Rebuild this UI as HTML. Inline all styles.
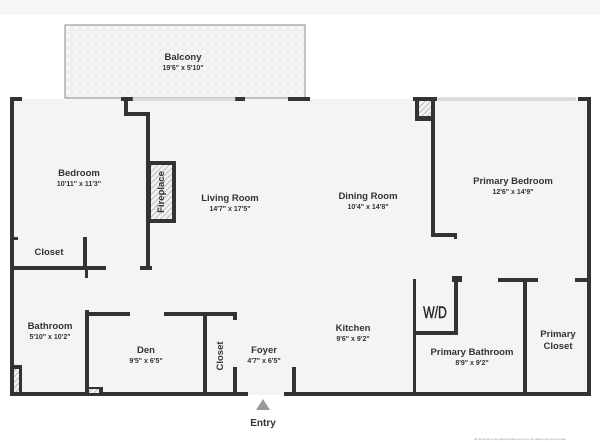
<!DOCTYPE html>
<html><head><style>
html,body{margin:0;padding:0;background:#fff;}
svg{display:block;}
text{font-family:"Liberation Sans",sans-serif;fill:#333;text-anchor:middle;}
.n{font-size:9.5px;font-weight:bold;}
.d{font-size:7px;font-weight:bold;}
</style></head><body>
<svg width="600" height="442" viewBox="0 0 600 442">
<defs>
<pattern id="tile" width="8" height="8" patternUnits="userSpaceOnUse">
<rect width="8" height="8" fill="#f7f7f7"/>
<rect x="1" y="1" width="6" height="6" rx="1.5" fill="none" stroke="#e4e4e4" stroke-width="0.8"/>
</pattern>
<pattern id="hatch" width="4" height="4" patternUnits="userSpaceOnUse" patternTransform="rotate(45)">
<rect width="4" height="4" fill="#f2f2f2"/>
<line x1="0" y1="0" x2="0" y2="4" stroke="#999" stroke-width="1.2"/>
</pattern>
</defs>
<rect x="0" y="0" width="600" height="15" fill="#f6f6f6"/>
<rect x="65" y="25" width="240" height="73" fill="url(#tile)" stroke="#888" stroke-width="1"/>
<rect x="12" y="99" width="577" height="296" fill="#f4f4f4"/>
<g fill="#333">
<rect x="10" y="97" width="4" height="299"/>
<rect x="10" y="97" width="12" height="4"/>
<rect x="121" y="97" width="12" height="4"/>
<rect x="235" y="97" width="10" height="4"/>
<rect x="288" y="97" width="22" height="4"/>
<rect x="413" y="97" width="24" height="4"/>
<rect x="578" y="97" width="13" height="4"/>
<rect x="587" y="97" width="4" height="299"/>
<rect x="10" y="392" width="238" height="4"/>
<rect x="284" y="392" width="307" height="4"/>
<rect x="124" y="97" width="4" height="19"/>
<rect x="124" y="112" width="26" height="4"/>
<rect x="146" y="112" width="4" height="158"/>
<rect x="10" y="266" width="96" height="4"/>
<rect x="140" y="266" width="12" height="4"/>
<rect x="10" y="237" width="8" height="3"/>
<rect x="83" y="237" width="4" height="33"/>
<rect x="85" y="268" width="3" height="10"/>
<rect x="85" y="310" width="4" height="86"/>
<rect x="85" y="312" width="45" height="4"/>
<rect x="164" y="312" width="73" height="4"/>
<rect x="203" y="312" width="4" height="84"/>
<rect x="233" y="312" width="4" height="8"/>
<rect x="233" y="367" width="4" height="29"/>
<rect x="292" y="367" width="4" height="29"/>
<rect x="431" y="97" width="4" height="140"/>
<rect x="431" y="233" width="26" height="4"/>
<rect x="454" y="233" width="3" height="6"/>
<rect x="452" y="276" width="10" height="6"/>
<rect x="498" y="278" width="40" height="4"/>
<rect x="575" y="278" width="14" height="4"/>
<rect x="413" y="279" width="3" height="117"/>
<rect x="454" y="278" width="4" height="57"/>
<rect x="413" y="331" width="45" height="4"/>
<rect x="523" y="278" width="4" height="118"/>
<rect x="415" y="97" width="20" height="24"/>
<rect x="148" y="161" width="28" height="62"/>
<rect x="12" y="365" width="10" height="28"/>
<rect x="86" y="387" width="17" height="7"/>
</g>
<rect x="419" y="101" width="12" height="15" fill="url(#hatch)"/>
<rect x="151" y="165" width="21" height="54" fill="url(#hatch)"/>
<rect x="14" y="369" width="5" height="23" fill="url(#hatch)"/>
<rect x="89" y="389" width="10" height="4" fill="url(#hatch)"/>
<g fill="#eee" stroke="#bbb" stroke-width="0.8">
<rect x="133" y="98" width="102" height="2"/>
<rect x="438" y="98" width="137" height="2"/>
</g>
<polygon points="263,399 256,410 270,410" fill="#999"/>
<text class="n" x="263" y="426" style="font-size:10px">Entry</text>
<text class="n" x="183" y="60">Balcony</text><text class="d" x="183" y="70">19'6" x 5'10"</text>
<text class="n" x="79" y="176">Bedroom</text><text class="d" x="79" y="186">10'11" x 11'3"</text>
<text class="n" x="230" y="201">Living Room</text><text class="d" x="230" y="211">14'7" x 17'5"</text>
<text class="n" x="368" y="199">Dining Room</text><text class="d" x="368" y="209">10'4" x 14'8"</text>
<text class="n" x="513" y="184">Primary Bedroom</text><text class="d" x="513" y="194">12'6" x 14'9"</text>
<text class="n" x="49" y="255">Closet</text>
<text class="n" x="50" y="329">Bathroom</text><text class="d" x="50" y="339">5'10" x 10'2"</text>
<text class="n" x="146" y="353">Den</text><text class="d" x="146" y="363">9'5" x 6'5"</text>
<text class="n" x="264" y="353">Foyer</text><text class="d" x="264" y="363">4'7" x 6'5"</text>
<text class="n" x="353" y="331">Kitchen</text><text class="d" x="353" y="341">9'6" x 9'2"</text>
<text class="n" x="472" y="355">Primary Bathroom</text><text class="d" x="472" y="365">8'9" x 9'2"</text>
<text class="n" x="558" y="337">Primary</text><text class="n" x="558" y="349">Closet</text>
<text x="0" y="0" style="font-size:17px;fill:#222;stroke:#222;stroke-width:0.4" transform="translate(435,318) scale(0.72,1)">W/D</text>
<text class="n" transform="translate(223,356) rotate(-90)">Closet</text>
<text class="n" transform="translate(164,192) rotate(-90)">Fireplace</text>
<text x="520" y="440" style="font-size:3px;fill:#999">All dimensions are approximate and not to be relied upon as accurate</text>
</svg>
</body></html>
